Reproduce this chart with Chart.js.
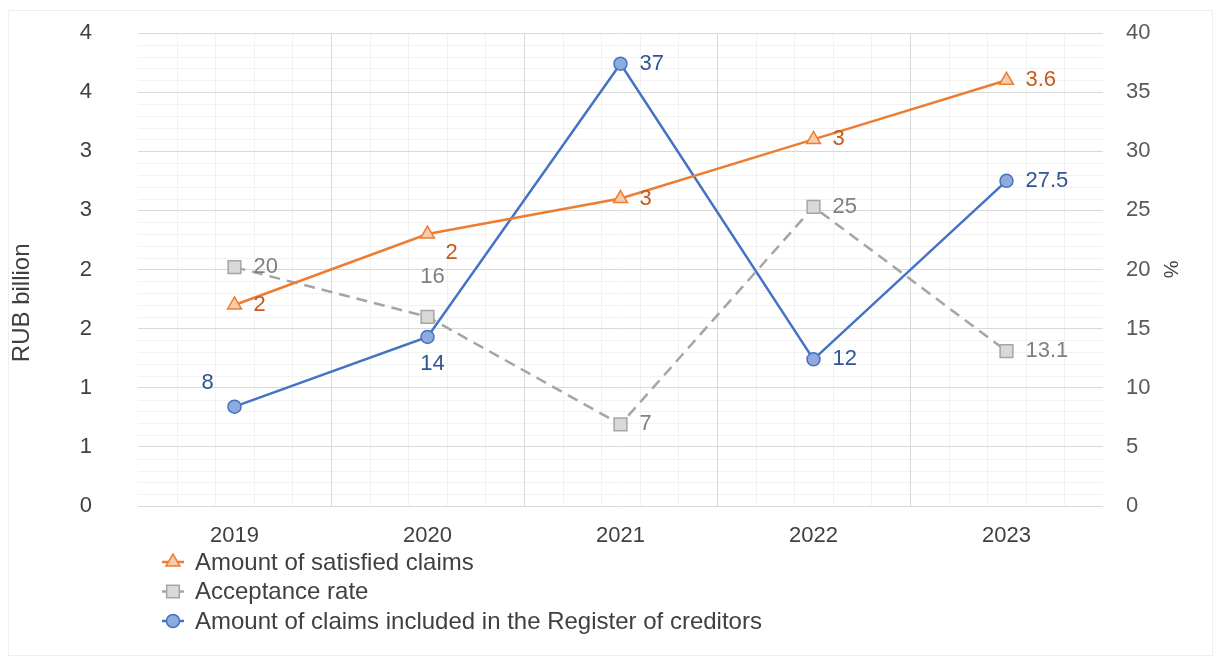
<!DOCTYPE html>
<html><head><meta charset="utf-8">
<style>html,body{margin:0;padding:0;background:#fff;}#wrap{width:1218px;height:661px;}</style>
<script src="https://cdn.jsdelivr.net/npm/chart.js@4.4.0/dist/chart.umd.min.js"></script>
</head><body><div id="wrap"><canvas id="c" width="1218" height="661"></canvas></div>
<script>
const categories = ['2019', '2020', '2021', '2022', '2023'];
const satisfiedClaims = [1.7, 2.3, 2.6, 3.1, 3.6];
const satisfiedLabels = ['2', '2', '3', '3', '3.6'];
const acceptanceRate = [20.2, 16, 6.9, 25.3, 13.1];
const acceptanceLabels = ['20', '16', '7', '25', '13.1'];
const registerClaims = [8.4, 14.3, 37.4, 12.4, 27.5];
const registerLabels = ['8', '14', '37', '12', '27.5'];
const leftTickLabels = ['0', '1', '1', '2', '2', '3', '3', '4', '4'];
const rightTickLabels = ['0', '5', '10', '15', '20', '25', '30', '35', '40'];
const seriesNames = ['Amount of satisfied claims', 'Acceptance rate', 'Amount of claims included in the Register of creditors'];

// label placement styles (not data)
const satisfiedPlace = ['r', 'br', 'r', 'r', 'r'];
const acceptancePlace = ['r', 'a', 'r', 'r', 'r'];
const registerPlace = ['al', 'b', 'r', 'r', 'r'];

const FONT = "'Liberation Sans', Arial, sans-serif";
const FS = 22;

const placeOffsets = {
  r: {dx: 19, dy: 0, align: 'left'},
  br: {dx: 24, dy: 19, align: 'center'},
  a: {dx: 5, dy: -40, align: 'center'},
  b: {dx: 5, dy: 27, align: 'center'},
  al: {dx: -27, dy: -24, align: 'center'}
};

const frameAndMinorGrid = {
  id: 'frameAndMinorGrid',
  beforeDraw(chart) {
    const ctx = chart.ctx;
    const xs = chart.scales.x, ys = chart.scales.y;
    const a = chart.chartArea;
    ctx.save();
    ctx.strokeStyle = '#efefef';
    ctx.lineWidth = 1;
    ctx.strokeRect(8.5, 10.5, 1204, 645);
    ctx.strokeStyle = '#f2f2f2';
    ctx.beginPath();
    for (let v = 1; v < 40; v++) {
      if (v % 5 === 0) continue;
      const y = Math.round(ys.getPixelForValue(v / 10)) + 0.5;
      ctx.moveTo(a.left, y); ctx.lineTo(a.right, y);
    }
    for (let i = 0; i < categories.length; i++) {
      for (let k = 1; k < 5; k++) {
        const x = Math.round(xs.getPixelForValue(i - 0.5 + k / 5)) + 0.5;
        ctx.moveTo(x, a.top); ctx.lineTo(x, a.bottom);
      }
    }
    ctx.stroke();
    ctx.restore();
  }
};

const labelColors = ['#c65a1e', '#808080', '#2f5597'];
const labelTexts = [satisfiedLabels, acceptanceLabels, registerLabels];
const labelPlaces = [satisfiedPlace, acceptancePlace, registerPlace];

const dataLabels = {
  id: 'dataLabels',
  afterDatasetsDraw(chart) {
    const ctx = chart.ctx;
    ctx.save();
    ctx.font = FS + 'px ' + FONT;
    ctx.textBaseline = 'middle';
    chart.data.datasets.forEach((ds, di) => {
      const meta = chart.getDatasetMeta(di);
      meta.data.forEach((pt, i) => {
        const p = placeOffsets[labelPlaces[di][i]];
        ctx.fillStyle = labelColors[di];
        ctx.textAlign = p.align;
        ctx.fillText(labelTexts[di][i], pt.x + p.dx, pt.y + p.dy);
      });
    });
    ctx.restore();
  }
};

const customLegend = {
  id: 'customLegend',
  afterDraw(chart) {
    const ctx = chart.ctx;
    const a = chart.chartArea;
    const x0 = a.left + 24;
    const y0 = a.bottom + 56;
    ctx.save();
    ctx.font = '24px ' + FONT;
    ctx.textBaseline = 'middle';
    ctx.textAlign = 'left';
    chart.data.datasets.forEach((ds, i) => {
      const y = y0 + i * 29.5;
      ctx.strokeStyle = ds.borderColor;
      ctx.lineWidth = 2.5;
      ctx.setLineDash([]);
      ctx.beginPath(); ctx.moveTo(x0, y); ctx.lineTo(x0 + 22, y); ctx.stroke();
      ctx.fillStyle = ds.pointBackgroundColor;
      ctx.strokeStyle = ds.pointBorderColor;
      ctx.lineWidth = ds.pointBorderWidth;
      Chart.helpers.drawPoint(ctx, {pointStyle: ds.pointStyle, radius: ds.pointRadius, rotation: 0, borderWidth: ds.pointBorderWidth}, x0 + 11, y);
      ctx.fillStyle = '#404040';
      ctx.fillText(ds.label, x0 + 33, y + 1);
    });
    ctx.restore();
  }
};

new Chart(document.getElementById('c'), {
  type: 'line',
  data: {
    labels: categories,
    datasets: [
      {
        label: seriesNames[0], data: satisfiedClaims, yAxisID: 'y',
        borderColor: '#ed7d31', borderWidth: 2.5, tension: 0,
        pointStyle: 'triangle', pointRadius: 8, pointHoverRadius: 8,
        pointBackgroundColor: '#f8cbad', pointBorderColor: '#ed7d31', pointBorderWidth: 1.5
      },
      {
        label: seriesNames[1], data: acceptanceRate, yAxisID: 'y1',
        borderColor: '#a5a5a5', borderWidth: 2.5, borderDash: [11, 7], tension: 0,
        pointStyle: 'rect', pointRadius: 9, pointHoverRadius: 9,
        pointBackgroundColor: '#d9d9d9', pointBorderColor: '#a5a5a5', pointBorderWidth: 1.5
      },
      {
        label: seriesNames[2], data: registerClaims, yAxisID: 'y1',
        borderColor: '#4472c4', borderWidth: 2.5, tension: 0,
        pointStyle: 'circle', pointRadius: 6.5, pointHoverRadius: 6.5,
        pointBackgroundColor: '#8faadc', pointBorderColor: '#4472c4', pointBorderWidth: 1.5
      }
    ]
  },
  options: {
    responsive: false,
    animation: false,
    devicePixelRatio: 1,
    layout: {padding: {left: 6, right: 32, top: 33, bottom: 105}},
    plugins: {legend: {display: false}, tooltip: {enabled: false}},
    scales: {
      x: {
        type: 'category', offset: true,
        grid: {
          offset: true, drawTicks: false, lineWidth: 1,
          color: (c) => (c.index === undefined || c.index === 0) ? 'rgba(0,0,0,0)' : '#d9d9d9'
        },
        border: {display: false},
        ticks: {color: '#404040', font: {family: FONT, size: FS}, padding: 17, maxRotation: 0},
        afterFit: (s) => { s.height = 50; }
      },
      y: {
        position: 'left', min: 0, max: 4,
        ticks: {stepSize: 0.5, callback: (v, i) => leftTickLabels[i], color: '#404040', font: {family: FONT, size: FS}, padding: 16},
        grid: {color: '#d9d9d9', drawTicks: true, tickLength: 30, tickColor: 'rgba(0,0,0,0)', lineWidth: 1},
        border: {display: false},
        title: {display: true, text: 'RUB billion          ', color: '#404040', font: {family: FONT, size: 24}, padding: 2},
        afterFit: (s) => { s.width = 132; }
      },
      y1: {
        position: 'right', min: 0, max: 40,
        ticks: {stepSize: 5, callback: (v, i) => rightTickLabels[i], color: '#595959', font: {family: FONT, size: FS}, padding: 15},
        grid: {display: false},
        border: {display: false},
        title: {display: true, text: '%', color: '#404040', font: {family: FONT, size: 20}, padding: 4},
        afterFit: (s) => { s.width = 83; }
      }
    }
  },
  plugins: [frameAndMinorGrid, dataLabels, customLegend]
});
</script>
</body></html>
